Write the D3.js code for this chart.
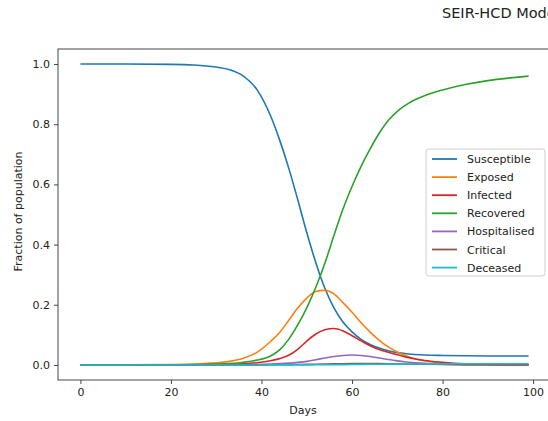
<!DOCTYPE html>
<html>
<head>
<meta charset="utf-8">
<script src="https://cdn.jsdelivr.net/npm/d3@7"></script>
<style>
	body { margin: 0; background: #fff; overflow: hidden; }
	svg { display: block; font-family: "DejaVu Sans", sans-serif; }
</style>
</head>
<body>
<div class="container"></div>
<script>

// values
var days = [0, 10, 20, 25, 30, 33, 36, 39, 42, 44, 46, 48, 50, 52, 54, 56, 58, 60, 62, 64, 66, 68, 70, 72, 74, 76, 80, 85, 90, 95, 99];

var susceptible = [1.0, 1.0, 0.999, 0.997, 0.99, 0.981, 0.96, 0.915, 0.828, 0.748, 0.655, 0.55, 0.44, 0.34, 0.255, 0.19, 0.143, 0.11, 0.085, 0.068, 0.056, 0.047, 0.041, 0.037, 0.0345, 0.033, 0.0315, 0.0305, 0.030, 0.030, 0.0298];
var exposed = [0.0005, 0.0006, 0.0015, 0.003, 0.007, 0.012, 0.022, 0.042, 0.078, 0.108, 0.148, 0.189, 0.222, 0.244, 0.248, 0.236, 0.207, 0.175, 0.14, 0.109, 0.082, 0.06, 0.043, 0.03, 0.02, 0.014, 0.006, 0.002, 0.0008, 0.0003, 0.0001];
var infected = [0.0003, 0.0003, 0.0005, 0.0008, 0.0015, 0.0025, 0.004, 0.0075, 0.014, 0.021, 0.032, 0.052, 0.079, 0.103, 0.117, 0.121, 0.113, 0.097, 0.08, 0.064, 0.051, 0.042, 0.034, 0.026, 0.02, 0.015, 0.009, 0.004, 0.002, 0.001, 0.0005];
var recovered = [0, 0, 0.0005, 0.001, 0.003, 0.005, 0.009, 0.016, 0.030, 0.05, 0.085, 0.133, 0.190, 0.258, 0.338, 0.430, 0.518, 0.593, 0.660, 0.718, 0.770, 0.812, 0.843, 0.865, 0.882, 0.895, 0.914, 0.932, 0.945, 0.954, 0.960];
var hospitalised = [0, 0, 0.0001, 0.0002, 0.0004, 0.0006, 0.001, 0.0017, 0.003, 0.0043, 0.006, 0.0085, 0.012, 0.0175, 0.023, 0.028, 0.0315, 0.033, 0.0315, 0.028, 0.023, 0.018, 0.0135, 0.01, 0.0072, 0.0052, 0.0028, 0.0012, 0.0006, 0.0003, 0.0002];
var critical = [0, 0, 0, 0, 0.0001, 0.0001, 0.0002, 0.0003, 0.0005, 0.0007, 0.0009, 0.0013, 0.0019, 0.0025, 0.0031, 0.0037, 0.0042, 0.0045, 0.0046, 0.0046, 0.0044, 0.0041, 0.0037, 0.0033, 0.0029, 0.0025, 0.0017, 0.001, 0.0006, 0.0003, 0.0002];
var deceased = [0, 0, 0, 0, 0, 0, 0, 0, 0.0001, 0.0001, 0.0002, 0.0002, 0.0003, 0.0005, 0.0007, 0.0009, 0.0012, 0.0015, 0.0018, 0.0021, 0.0024, 0.0027, 0.0029, 0.0031, 0.0033, 0.0034, 0.0037, 0.0039, 0.004, 0.004, 0.004];

var seriesNames = ["Susceptible", "Exposed", "Infected", "Recovered", "Hospitalised", "Critical", "Deceased"];
var seriesValues = [susceptible, exposed, infected, recovered, hospitalised, critical, deceased];
var seriesColors = ["#1f77b4", "#ff7f0e", "#d62728", "#2ca02c", "#9467bd", "#8c564b", "#17becf"];

var xTicks = [0, 20, 40, 60, 80, 100];
var yTicks = [0.0, 0.2, 0.4, 0.6, 0.8, 1.0];

var W = 548, H = 421;
var plotLeft = 58, plotTop = 49, plotRight = 551, plotBottom = 380;

function makeStage(w, h) {
	var stage = d3.select(".container")
		.insert("svg")
		.attr("width", w)
		.attr("height", h);
	return stage;
}

var stage = makeStage(W, H);

var x = d3.scaleLinear().domain([-4.95, 103.95]).range([plotLeft, plotRight]);
var y = d3.scaleLinear().domain([-0.05, 1.05]).range([plotBottom, plotTop]);

stage.append("defs").append("clipPath")
	.attr("id", "plotclip")
	.append("rect")
	.attr("x", plotLeft)
	.attr("y", plotTop)
	.attr("width", plotRight - plotLeft)
	.attr("height", plotBottom - plotTop);

// lines
var line = d3.line()
	.x(function(d) { return x(d[0]); })
	.y(function(d) { return y(d[1]); })
	.curve(d3.curveMonotoneX);

var plot = stage.append("g").attr("clip-path", "url(#plotclip)");

seriesValues.forEach(function(vals, i) {
	var pts = days.map(function(d, j) { return [d, vals[j]]; });
	plot.append("path")
		.datum(pts)
		.attr("d", line)
		.attr("fill", "none")
		.attr("stroke", seriesColors[i])
		.attr("stroke-width", 1.6);
});

// axes
var xAxis = d3.axisBottom(x).tickValues(xTicks).tickSize(4).tickPadding(4)
	.tickFormat(d3.format("d"));
var yAxis = d3.axisLeft(y).tickValues(yTicks).tickSize(4).tickPadding(4)
	.tickFormat(d3.format(".1f"));

var gx = stage.append("g")
	.attr("transform", "translate(0," + plotBottom + ")")
	.call(xAxis);
var gy = stage.append("g")
	.attr("transform", "translate(" + plotLeft + ",0)")
	.call(yAxis);

[gx, gy].forEach(function(g) {
	g.select(".domain").remove();
	g.selectAll("line").attr("stroke", "#333").attr("stroke-width", 0.9);
	g.selectAll("text")
		.attr("fill", "#222")
		.style("font-family", "DejaVu Sans")
		.style("font-size", "11px");
});

// spines
stage.append("rect")
	.attr("x", plotLeft)
	.attr("y", plotTop)
	.attr("width", plotRight - plotLeft)
	.attr("height", plotBottom - plotTop)
	.attr("fill", "none")
	.attr("stroke", "#333")
	.attr("stroke-width", 0.9);

// labels
stage.append("text")
	.attr("x", 303)
	.attr("y", 414)
	.attr("text-anchor", "middle")
	.style("font-size", "11px")
	.attr("fill", "#222")
	.text("Days");

stage.append("text")
	.attr("transform", "translate(22," + ((plotTop + plotBottom) / 2 - 3) + ") rotate(-90)")
	.attr("text-anchor", "middle")
	.style("font-size", "11px")
	.attr("fill", "#222")
	.text("Fraction of population");

// title sits partly outside the page, as in the reference
stage.append("text")
	.attr("x", 442)
	.attr("y", 18)
	.style("font-size", "14.5px")
	.attr("fill", "#222")
	.text("SEIR-HCD Model");

// legend
var legend = stage.append("g");
legend.append("rect")
	.attr("x", 426)
	.attr("y", 149)
	.attr("width", 119)
	.attr("height", 127)
	.attr("rx", 3)
	.attr("fill", "#fff")
	.attr("fill-opacity", 0.8)
	.attr("stroke", "#d0d0d0")
	.attr("stroke-width", 1);

seriesNames.forEach(function(name, i) {
	var ly = 159 + i * 18.1;
	legend.append("line")
		.attr("x1", 432)
		.attr("x2", 457)
		.attr("y1", ly)
		.attr("y2", ly)
		.attr("stroke", seriesColors[i])
		.attr("stroke-width", 1.8);
	legend.append("text")
		.attr("x", 467)
		.attr("y", ly + 4)
		.style("font-size", "11px")
		.attr("fill", "#222")
		.text(name);
});

</script>
</body>
</html>
